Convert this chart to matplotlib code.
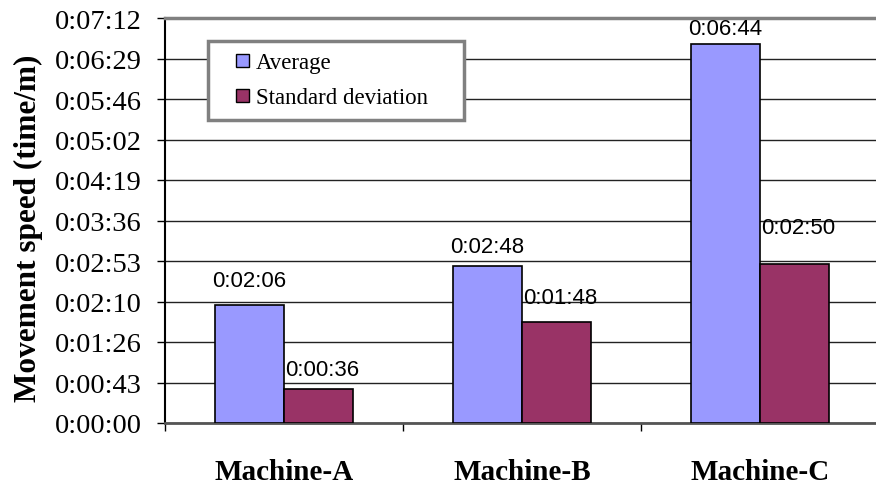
import matplotlib
matplotlib.use("Agg")
import matplotlib.pyplot as plt
import numpy as np
from matplotlib.container import BarContainer
from matplotlib.patches import Rectangle
from matplotlib.legend_handler import HandlerPatch, update_from_first_child
from matplotlib.ticker import FuncFormatter, FixedLocator

machines = ["Machine-A", "Machine-B", "Machine-C"]
series_names = ["Average", "Standard deviation"]
average_sec = [126, 168, 404]      # 0:02:06, 0:02:48, 0:06:44
std_dev_sec = [36, 108, 170]       # 0:00:36, 0:01:48, 0:02:50
y_max_sec = 432                    # 0:07:12
y_step_sec = 43.2

AVG_COLOR = "#9999FF"
STD_COLOR = "#993366"
SERIF = "Liberation Serif"
SANS = "Liberation Sans"

# vertical gap (px) between each bar top and its value label
avg_label_gap = [14, 8, 5]
std_label_gap = [9, 14, 26]


def hms(sec, _pos=None):
    s = int(round(sec))
    return f"{s // 3600}:{(s % 3600) // 60:02d}:{s % 60:02d}"


def square_key(legend, orig_handle, xdescent, ydescent, width, height, fontsize):
    # small square swatch pushed to the right end of the handle box
    side = 13 * 72 / 100
    return Rectangle((width - side - xdescent, (height - side) / 2 - ydescent), side, side)


fig = plt.figure(figsize=(8.76, 4.85), dpi=100)
ax = fig.add_axes([165 / 876, 61 / 485, 714 / 876, 405 / 485])

x = np.arange(len(machines))
width = 0.29
bars_avg = ax.bar(x - width / 2, average_sec, width, color=AVG_COLOR,
                  edgecolor="black", linewidth=1.2, label=series_names[0], zorder=3)
bars_std = ax.bar(x + width / 2, std_dev_sec, width, color=STD_COLOR,
                  edgecolor="black", linewidth=1.2, label=series_names[1], zorder=3)

px = 72 / 100
for bar, val, gap in zip(bars_avg, average_sec, avg_label_gap):
    ax.annotate(hms(val), (bar.get_x() + bar.get_width() / 2, val),
                xytext=(0, gap * px), textcoords="offset points",
                ha="center", va="bottom", fontsize=16, family=SANS, zorder=4)
for bar, val, gap in zip(bars_std, std_dev_sec, std_label_gap):
    ax.annotate(hms(val), (bar.get_x() + bar.get_width() / 2, val),
                xytext=(4 * px, gap * px), textcoords="offset points",
                ha="center", va="bottom", fontsize=16, family=SANS, zorder=4)

ax.set_xlim(-0.5, 2.5)
ax.set_ylim(0, y_max_sec)
ax.yaxis.set_major_locator(FixedLocator(np.arange(11) * y_step_sec))
ax.yaxis.set_major_formatter(FuncFormatter(hms))
ax.tick_params(axis="y", length=6, width=1, pad=11, labelsize=20.5, direction="out")
for t in ax.get_yticklabels():
    t.set_family(SERIF)

ax.set_xticks(x)
ax.set_xticklabels(machines, fontsize=21, fontweight="bold", family=SERIF)
ax.tick_params(axis="x", which="major", length=0, pad=25)
ax.set_xticks([-0.5, 0.5, 1.5, 2.5], minor=True)
ax.tick_params(axis="x", which="minor", length=6, width=1, direction="out")

ax.grid(axis="y", color="#222222", linewidth=1.0, zorder=0)
ax.set_axisbelow(True)

ax.spines["left"].set_color("black")
ax.spines["left"].set_linewidth(1.5)
ax.spines["bottom"].set_color("#555555")
ax.spines["bottom"].set_linewidth(2)
ax.spines["top"].set_color("#808080")
ax.spines["top"].set_linewidth(2.5)
ax.spines["right"].set_visible(False)

fig.text(28 / 876, 1 - 228 / 485, "Movement speed (time/m)", rotation=90,
         ha="center", va="center", fontsize=22.5, fontweight="bold", family=SERIF)

key_handler = HandlerPatch(patch_func=square_key, update_func=update_from_first_child)
leg = ax.legend(loc="upper left",
                bbox_to_anchor=(43 / 714, 302 / 405, 256 / 714, 80 / 405),
                mode="expand", borderaxespad=0, fancybox=False, framealpha=1,
                edgecolor="#808080", prop={"family": SERIF, "size": 16.5},
                handler_map={BarContainer: key_handler},
                handlelength=1.3, handleheight=0.7, handletextpad=0.3,
                labelspacing=0.6, borderpad=0.5)
leg.get_frame().set_linewidth(2.5)
for h in leg.legend_handles:
    h.set_linewidth(1.0)

fig.savefig("out.png", dpi=100)
